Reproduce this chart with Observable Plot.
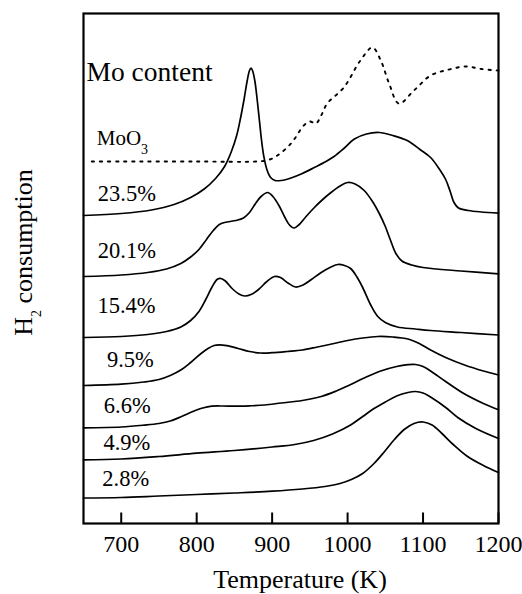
<!DOCTYPE html>
<html>
<head>
<meta charset="utf-8">
<script src="https://cdn.jsdelivr.net/npm/d3@7"></script>
<script src="https://cdn.jsdelivr.net/npm/@observablehq/plot@0.6"></script>
<style>
  html, body { margin: 0; padding: 0; background: #fff; }
  #chart { width: 522px; height: 594px; }
</style>
</head>
<body>
<div id="chart"></div>
<script>
// x ticks (K)
const xTicks = [700, 800, 900, 1000, 1100, 1200];

// TPR profiles: [temperature K, H2 consumption (a.u., stacked offset)]
const s28 = [[650,25.5],[700,26],[750,27.5],[800,29],[850,30.5],[900,32.3],[940,34.5],[970,37],[990,40],[1005,44],[1020,50],[1035,60],[1049,72],[1062,84],[1075,94],[1088,100],[1100,101.5],[1112,98.5],[1125,90],[1140,79],[1159,67],[1180,58],[1200,51]];
const s49 = [[650,63.7],[700,64.5],[750,67],[800,70.3],[850,73],[900,76.5],[930,79],[955,83],[980,89.5],[1004,98.5],[1020,107],[1035,115],[1050,121.5],[1065,127.5],[1080,131],[1090,132],[1100,130.5],[1112,125.5],[1130,116],[1146,106],[1170,95],[1200,85]];
const s66 = [[650,95.7],[700,96.5],[730,98.3],[750,100],[765,102.5],[780,107],[795,112],[808,115.5],[820,117.3],[835,117.5],[850,117.3],[870,117.7],[890,118.5],[912,120.5],[940,123],[965,127],[985,132.5],[1000,137.5],[1022,145.5],[1044,152.5],[1065,157],[1080,158.8],[1090,159],[1100,157],[1110,152.5],[1130,142],[1154,130],[1180,120],[1200,113.7]];
const s95 = [[650,138],[700,139.3],[730,141.5],[750,144],[765,148],[780,154],[792,161],[805,169.5],[815,175],[823,178],[830,178.7],[840,177.8],[855,175],[870,172],[885,170.5],[900,170.8],[920,172],[940,173.5],[960,176.5],[982,180],[1000,183],[1020,185.5],[1040,187],[1060,186.5],[1080,184.5],[1095,180],[1110,173.5],[1130,166],[1155,158.5],[1180,152.5],[1200,148.5]];
const s154 = [[650,186],[700,187],[735,189],[760,192],[779,196.5],[792,203],[803,212],[812,224],[820,236],[827,244],[832,245],[838,242.5],[847,235],[856,229.5],[864,227.5],[872,229],[882,234],[893,242],[903,247],[911,246],[921,240.5],[931,236.5],[941,238.5],[952,244],[965,251],[978,256.5],[987,259],[996,258],[1004,255],[1012,247],[1020,236],[1031,218],[1040,207],[1050,201],[1066,196.5],[1090,194.5],[1110,193],[1150,191],[1200,188.5]];
const s201 = [[650,247],[700,248.5],[735,251],[760,254.5],[779,260],[792,266.5],[803,274],[813,284],[822,293],[830,299],[840,301.5],[852,303],[862,305.5],[870,311],[878,320],[886,327.5],[894,331],[901,327],[909,318],[917,306],[923,298.5],[929,295.5],[936,299],[945,307],[956,316],[967,324],[978,331],[990,337.5],[1000,341],[1010,339.5],[1022,333],[1033,322],[1042,310],[1050,297],[1057,283],[1064,270],[1072,262.5],[1085,258.5],[1100,256],[1150,252.5],[1200,249.7]];
const s235 = [[650,308],[700,310],[740,313.5],[770,319],[792,326],[810,334.5],[825,345],[837,357],[846,372],[853,388],[858,405],[863,425],[867,443],[870,453],[872,455.5],[874,453],[877,443],[880,425],[883,404],[886,383],[889,367],[893,354],[898,346],[904,343],[912,343],[925,345.5],[940,350],[956,356],[970,361.5],[982,367],[995,375],[1009,384.5],[1025,389.5],[1042,391],[1060,388],[1079,383],[1096,374],[1110,366],[1122,354],[1130,344],[1136,332],[1141,321],[1147,315.5],[1160,313],[1200,310.3]];
const sMoO3 = [[661,362],[700,362],[800,362],[880,362],[895,363.5],[907,368],[925,380],[942,398],[950,402],[958,400],[965,408],[973,420],[995,436],[1017,463],[1033,476],[1044,463],[1055,440],[1068,420],[1088,433],[1110,448],[1132,453.5],[1157,457],[1177,454.5],[1200,453]];

// series labels: [text, x (K), y (a.u.)]
const seriesLabels = [
  ["23.5%", 669, 322.3],
  ["20.1%", 669, 265.3],
  ["15.4%", 668.5, 210.7],
  ["9.5%", 681, 156.3],
  ["6.6%", 677, 110.3],
  ["4.9%", 676.5, 74],
  ["2.8%", 675, 38]
];
const moo3Label = ["MoO_3", 667.5, 379];
const titleLabel = ["Mo content", 654, 443];

const solid = [s28, s49, s66, s95, s154, s201, s235];

const plot = Plot.plot({
  width: 522,
  height: 594,
  marginLeft: 83,
  marginRight: 24,
  marginTop: 13,
  marginBottom: 71,
  x: {domain: [650, 1200]},
  y: {domain: [0, 510], axis: null},
  style: {fontFamily: "'Liberation Serif', 'Times New Roman', serif", background: "#fff", color: "#000"},
  marks: [
    ...solid.map(s => Plot.line(s, {x: d => d[0], y: d => d[1], curve: "catmull-rom", strokeWidth: 1.7, stroke: "#000"})),
    Plot.line(sMoO3, {x: d => d[0], y: d => d[1], curve: "catmull-rom", strokeWidth: 1.9, stroke: "#000", strokeDasharray: "2.3,5.8"}),
    Plot.frame({strokeWidth: 2.2, stroke: "#000"}),
    Plot.ruleX(xTicks, {y1: 0, y2: 10.5, strokeWidth: 2, stroke: "#000"}),
    Plot.axisX(xTicks, {tickSize: 0, tickPadding: 11.4, fontSize: 24, tickFormat: "d", label: null, fontFamily: "'Liberation Serif', serif"}),
    Plot.text(seriesLabels, {x: d => d[1], y: d => d[2], text: d => d[0], textAnchor: "start", lineAnchor: "bottom", fontSize: 22.5, fontFamily: "'Liberation Serif', serif"}),
    Plot.text([moo3Label], {x: d => d[1], y: d => d[2], text: d => d[0], textAnchor: "start", lineAnchor: "bottom", fontSize: 21, fontFamily: "'Liberation Serif', serif"}),
    Plot.text([titleLabel], {x: d => d[1], y: d => d[2], text: d => d[0], textAnchor: "start", lineAnchor: "bottom", fontSize: 27.5, fontFamily: "'Liberation Serif', serif"}),
    Plot.text(["Temperature (K)"], {frameAnchor: "bottom", text: d => d, textAnchor: "middle", lineAnchor: "bottom", dx: 9, dy: 64.5, fontSize: 26, fontFamily: "'Liberation Serif', serif"}),
    Plot.text(["H_2 consumption"], {frameAnchor: "left", text: d => d, rotate: -90, textAnchor: "middle", lineAnchor: "bottom", dx: -51.3, dy: -16, fontSize: 26, fontFamily: "'Liberation Serif', serif"})
  ]
});

// subscripts
plot.querySelectorAll("text").forEach(t => {
  if (t.textContent === "MoO_3") {
    t.innerHTML = 'MoO<tspan dy="9" font-size="14">3</tspan>';
  } else if (t.textContent === "H_2 consumption") {
    t.innerHTML = 'H<tspan dy="9" font-size="14">2</tspan><tspan dy="-9"> consumption</tspan>';
  }
});

document.getElementById("chart").appendChild(plot);
</script>
</body>
</html>
